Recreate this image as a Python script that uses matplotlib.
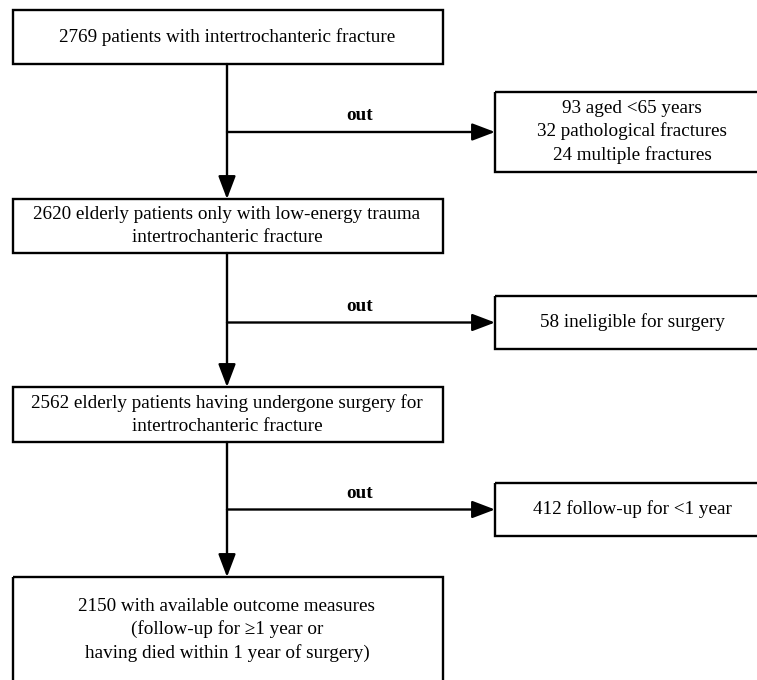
import matplotlib.pyplot as plt
from matplotlib.patches import Rectangle

plt.rcParams['font.family'] = ['Liberation Serif', 'DejaVu Serif']

# flow boxes (main column) and exclusion boxes (right side)
main_texts = [
    "2769 patients with intertrochanteric fracture",
    "2620 elderly patients only with low-energy trauma\nintertrochanteric fracture",
    "2562 elderly patients having undergone surgery for\nintertrochanteric fracture",
    "2150 with available outcome measures\n(follow-up for \u22651 year or\nhaving died within 1 year of surgery)",
]
out_texts = [
    "93 aged <65 years\n32 pathological fractures\n24 multiple fractures",
    "58 ineligible for surgery",
    "412 follow-up for <1 year",
]
out_label = "out"

# layout in pixels (top, bottom) of each box
main_y = [(10, 64), (199, 253), (387, 442), (577, 700)]
out_y = [(92, 172), (296, 349), (483, 536)]
main_x = (13, 443)
out_x = (495, 775)
cx = 227
fs = 13.8

fig = plt.figure(figsize=(7.57, 6.8), dpi=100)
ax = fig.add_axes([0, 0, 1, 1])
ax.set_xlim(0, 757)
ax.set_ylim(680, 0)
ax.axis('off')

lw = 1.7
arrow = dict(arrowstyle='-|>,head_length=1.0,head_width=0.38', lw=lw,
             color='black', shrinkA=0, shrinkB=0, mutation_scale=14)

for (t, b), txt in zip(main_y, main_texts):
    ax.add_patch(Rectangle((main_x[0], t), main_x[1] - main_x[0], b - t,
                           fill=False, lw=lw, ec='black'))
    if b > 680:
        ty = 630
    else:
        ty = (t + b) / 2
    ax.text(cx, ty, txt, ha='center', va='center', fontsize=fs,
            linespacing=1.4)

for (t, b), txt in zip(out_y, out_texts):
    ax.add_patch(Rectangle((out_x[0], t), out_x[1] - out_x[0], b - t,
                           fill=False, lw=lw, ec='black'))
    ax.text(632, (t + b) / 2, txt, ha='center', va='center', fontsize=fs,
            linespacing=1.4)

for i in range(3):
    top = main_y[i][1]
    bot = main_y[i + 1][0]
    ay = sum(out_y[i]) / 2
    ax.annotate('', xy=(cx, bot), xytext=(cx, top), arrowprops=arrow)
    ax.annotate('', xy=(out_x[0], ay), xytext=(cx, ay), arrowprops=arrow)
    ax.text(360, ay - 16, out_label, ha='center', va='center', fontsize=fs,
            fontweight='bold')

fig.savefig('out.png', dpi=100)
